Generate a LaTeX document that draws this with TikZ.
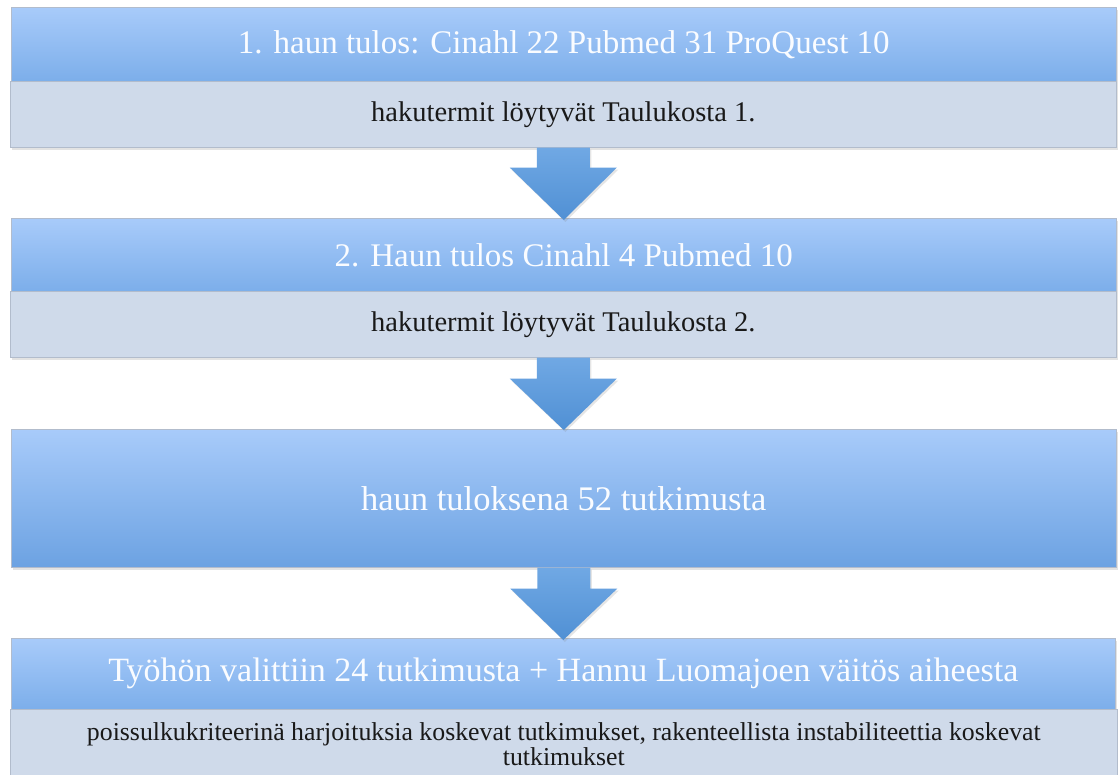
\documentclass[tikz,border=0pt]{standalone}
\usepackage{fontspec}
\setmainfont{Liberation Serif}
\usetikzlibrary{shadows,calc}
\definecolor{hdtop}{RGB}{168,203,250}
\definecolor{hdbot}{RGB}{124,174,234}
\definecolor{hdbotdark}{RGB}{108,162,226}
\definecolor{subfill}{RGB}{207,218,234}
\definecolor{edgegray}{RGB}{178,188,204}
\definecolor{artop}{RGB}{112,168,228}
\definecolor{arbot}{RGB}{80,144,212}
\definecolor{hdtext}{RGB}{250,252,255}
\definecolor{subtext}{RGB}{25,25,25}
\begin{document}
\begin{tikzpicture}[x=1pt,y=-1pt,
  hdr/.style={draw=edgegray, line width=0.6pt, top color=hdtop, bottom color=hdbot,
    text=hdtext, anchor=north west, inner sep=0pt, align=center,
    font=\fontsize{33}{40}\selectfont,
    drop shadow={shadow xshift=1.5pt, shadow yshift=-3pt, opacity=0.22}},
  subbox/.style={draw=edgegray, line width=0.6pt, fill=subfill, text=subtext,
    anchor=north west, inner sep=0pt, align=center,
    font=\fontsize{28.5}{32}\selectfont,
    drop shadow={shadow xshift=1.5pt, shadow yshift=-3pt, opacity=0.22}},
  barrow/.style={top color=artop, bottom color=arbot,
    drop shadow={shadow xshift=1.5pt, shadow yshift=-2pt, opacity=0.2}}
]
\useasboundingbox (0,0) rectangle (1118,775);
\fill[white] (0,0) rectangle (1118,775);

% block 1
\node[hdr, minimum width=1105pt, minimum height=74pt] (h1) at (11,7)
  {1. haun tulos: Cinahl 22 Pubmed 31 ProQuest 10};
\node[subbox, minimum width=1106pt, minimum height=66pt] (s1) at (10,81)
  {hakutermit löytyvät Taulukosta 1.};

% block 2
\node[hdr, minimum width=1105pt, minimum height=73pt] (h2) at (11,218)
  {2. Haun tulos Cinahl 4 Pubmed 10};
\node[subbox, minimum width=1106pt, minimum height=66pt] (s2) at (10,291)
  {hakutermit löytyvät Taulukosta 2.};

% block 3
\node[hdr, bottom color=hdbotdark, minimum width=1105pt, minimum height=138pt,
  font=\fontsize{34.5}{40}\selectfont] (b3) at (11,429)
  {haun tuloksena 52 tutkimusta};

% block 4
\node[hdr, minimum width=1104pt, minimum height=71pt,
  font=\fontsize{34}{40}\selectfont] (h4) at (11,638)
  {Työhön valittiin 24 tutkimusta + Hannu Luomajoen väitös aiheesta};
\node[subbox, minimum width=1107pt, minimum height=70pt,
  font=\fontsize{25.8}{23}\selectfont] (s4) at (10,709)
  {poissulkukriteerinä harjoituksia koskevat tutkimukset, rakenteellista instabiliteettia koskevat\\tutkimukset};

% arrows
\path[barrow] ($(s1.south)+(-26.5,0)$) -- ($(s1.south)+(26.5,0)$) -- ($(s1.south)+(26.5,20)$)
  -- ($(s1.south)+(53.5,20)$) -- ($(h2.north)+(0,2)$) -- ($(s1.south)+(-53.5,20)$)
  -- ($(s1.south)+(-26.5,20)$) -- cycle;
\path[barrow] ($(s2.south)+(-26.5,0)$) -- ($(s2.south)+(26.5,0)$) -- ($(s2.south)+(26.5,21)$)
  -- ($(s2.south)+(53.5,21)$) -- ($(b3.north)+(0,1)$) -- ($(s2.south)+(-53.5,21)$)
  -- ($(s2.south)+(-26.5,21)$) -- cycle;
\path[barrow] ($(b3.south)+(-26.5,0)$) -- ($(b3.south)+(26.5,0)$) -- ($(b3.south)+(26.5,21)$)
  -- ($(b3.south)+(53.5,21)$) -- ($(h4.north)+(0,2)$) -- ($(b3.south)+(-53.5,21)$)
  -- ($(b3.south)+(-26.5,21)$) -- cycle;
\end{tikzpicture}
\end{document}
